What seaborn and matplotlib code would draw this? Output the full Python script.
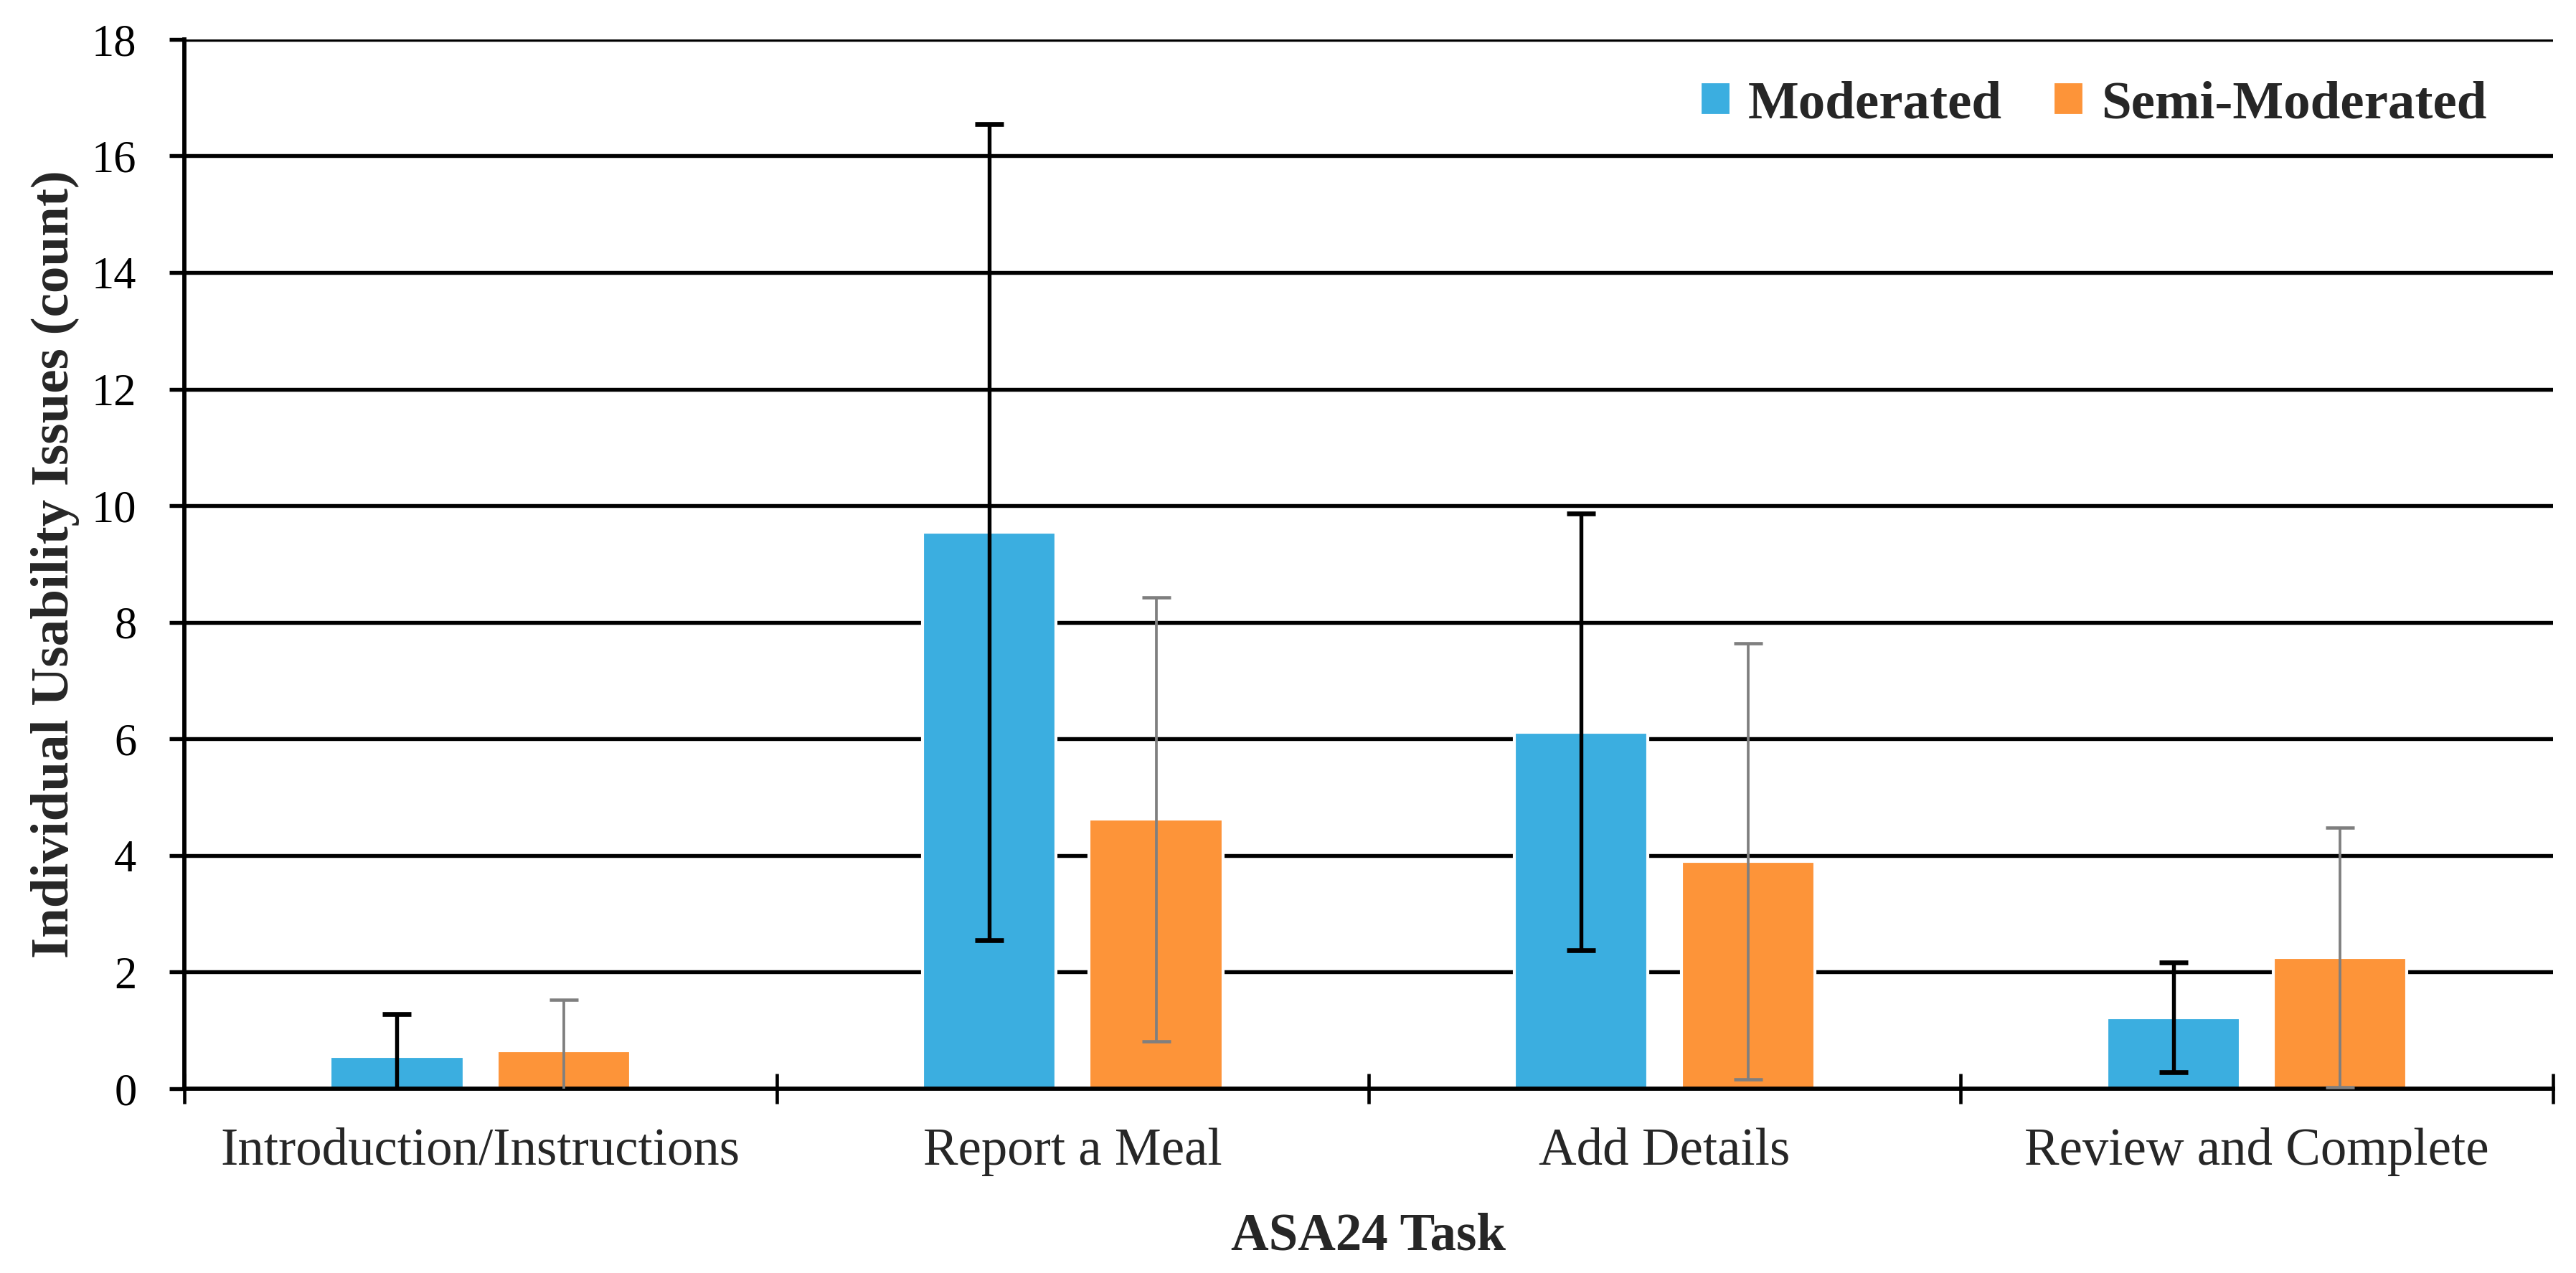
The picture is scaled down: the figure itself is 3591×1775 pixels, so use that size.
import pandas as pd
import numpy as np
import matplotlib
matplotlib.use("Agg")
import matplotlib.pyplot as plt
import seaborn as sns

# data
tasks = ["Introduction/Instructions", "Report a Meal", "Add Details", "Review and Complete"]
groups = ["Moderated", "Semi-Moderated"]
moderated_mean = [0.55, 9.55, 6.12, 1.22]
moderated_err = [0.73, 7.0, 3.75, 0.94]
semi_mean = [0.65, 4.62, 3.9, 2.25]
semi_err = [0.87, 3.81, 3.74, 2.23]

colors = {"Moderated": "#3BAEE0", "Semi-Moderated": "#FD9439"}
err_style = {"Moderated": dict(color="black", lw=1.3, capthick=1.6),
             "Semi-Moderated": dict(color="#7F7F7F", lw=0.9, capthick=1.1)}

df = pd.DataFrame({
    "task": tasks * 2,
    "group": ["Moderated"] * 4 + ["Semi-Moderated"] * 4,
    "mean": moderated_mean + semi_mean,
    "err": moderated_err + semi_err,
})

sns.set_style("white")
plt.rcParams['font.family'] = ['Liberation Serif', 'DejaVu Serif']

fig = plt.figure(figsize=(11.97, 5.917), dpi=300)
ax = fig.add_axes([0.0716, 0.1448, 0.9194, 0.8242])

sns.barplot(data=df, x="task", y="mean", hue="group", order=tasks,
            hue_order=groups, palette=colors, width=0.564, gap=0.2,
            errorbar=None, saturation=1, ax=ax, zorder=2)

# error bars on top of each bar
for cont, g in zip(ax.containers, groups):
    sub = df[df["group"] == g].set_index("task").loc[tasks]
    xs = [p.get_x() + p.get_width() / 2 for p in cont.patches]
    st = err_style[g]
    ax.errorbar(xs, sub["mean"], yerr=sub["err"], fmt="none", ecolor=st["color"],
                elinewidth=st["lw"], capsize=4.7, capthick=st["capthick"], zorder=3)

ax.set_ylim(0, 18)
ax.set_xlim(-0.5, 3.5)
ax.set_yticks(np.arange(0, 19, 2))
ax.yaxis.grid(True, color="black", lw=1.3)
ax.set_axisbelow(True)

for s in ["top", "right"]:
    ax.spines[s].set_visible(False)
for s in ["left", "bottom"]:
    ax.spines[s].set_color("black")
    ax.spines[s].set_linewidth(1.4)

ax.tick_params(axis="y", direction="out", length=5, width=1.3, pad=11,
               labelsize=15, left=True, colors="black")
ax.tick_params(axis="x", which="major", length=0, pad=13, labelsize=17.5)
ax.set_xticks(np.arange(-0.5, 4, 1), minor=True)
ax.tick_params(axis="x", which="minor", direction="inout", length=10, width=1.1,
               bottom=True, color="black")

ax.set_xlabel("ASA24 Task", fontsize=17.5, fontweight="bold", labelpad=12)
ax.set_ylabel("Individual Usability Issues (count)", fontsize=18,
              fontweight="bold", labelpad=4)

leg = ax.legend(loc="upper right", bbox_to_anchor=(0.972, 0.961), ncol=2,
                frameon=False, handlelength=0.57, handleheight=0.57,
                handletextpad=0.32, columnspacing=0.95, borderaxespad=0,
                borderpad=0, prop={"size": 18, "weight": "bold"})

fig.savefig("out.png", dpi=300)
